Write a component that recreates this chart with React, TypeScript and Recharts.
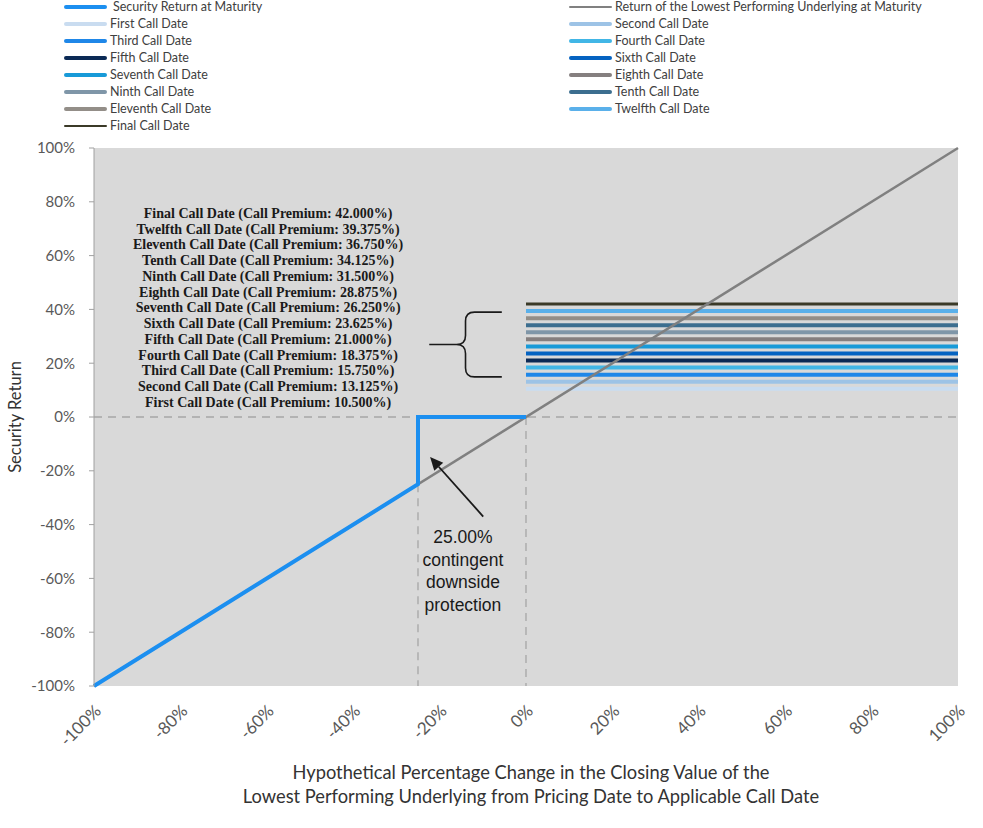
import {
	LineChart,
	Line,
	XAxis,
	YAxis,
	CartesianGrid,
	ReferenceLine,
	ReferenceArea,
	ReferenceDot,
	Label,
} from "recharts";

// axis ticks (percent)
const X_TICKS = [-100, -80, -60, -40, -20, 0, 20, 40, 60, 80, 100];
const Y_TICKS = [-100, -80, -60, -40, -20, 0, 20, 40, 60, 80, 100];

// return of the lowest performing underlying
const underlyingX = [-100, 100];
const underlyingY = [-100, 100];

// security return at maturity
const securityX = [-100, -25, -25, 0];
const securityY = [-100, -25, 0, 0];

const protectionLevel = -25;

// call dates and premiums
const callNames = [
	"First",
	"Second",
	"Third",
	"Fourth",
	"Fifth",
	"Sixth",
	"Seventh",
	"Eighth",
	"Ninth",
	"Tenth",
	"Eleventh",
	"Twelfth",
	"Final",
];
const callPremiums = [
	10.5, 13.125, 15.75, 18.375, 21.0, 23.625, 26.25, 28.875, 31.5, 34.125,
	36.75, 39.375, 42.0,
];
const callRange = [0, 100];

const callColors = [
	"#c9dcf0",
	"#9dc3e6",
	"#1f87e8",
	"#41b6e6",
	"#0b2a55",
	"#0563c1",
	"#189ad8",
	"#857f7f",
	"#7f96a8",
	"#3c6e8f",
	"#938e88",
	"#5ab0ea",
	"#3b3a28",
];

const SECURITY_COLOR = "#1c8ff0";
const UNDERLYING_COLOR = "#808080";
const DASH_COLOR = "#a6a6a6";
const SANS = "Lato, 'Open Sans', sans-serif";

const securityData = securityX.map((x, i) => ({ x, y: securityY[i] }));
const underlyingData = underlyingX.map((x, i) => ({ x, y: underlyingY[i] }));
const callData = callPremiums.map((p) => [
	{ x: callRange[0], y: p },
	{ x: callRange[1], y: p },
]);

const legendItems = [
	{ name: "Security Return at Maturity", color: SECURITY_COLOR, width: 4 },
	{
		name: "Return of the Lowest Performing Underlying at Maturity",
		color: UNDERLYING_COLOR,
		width: 2.5,
	},
	...callNames.map((n, i) => ({
		name: `${n} Call Date`,
		color: callColors[i],
		width: i === callNames.length - 1 ? 2.5 : 4,
	})),
];

const annotationLines = callNames
	.map((n, i) => `${n} Call Date (Call Premium: ${callPremiums[i].toFixed(3)}%)`)
	.reverse();

function XTick({ x, y, payload }: any) {
	const ax = x + 4;
	const ay = y + 14;
	return (
		<text
			x={ax}
			y={ay}
			dy="0.35em"
			textAnchor="end"
			transform={`rotate(-45, ${ax}, ${ay})`}
			fill="#595959"
			fontSize={17}
			fontFamily={SANS}
		>
			{`${payload.value}%`}
		</text>
	);
}

function XTitle({ viewBox }: any) {
	const cx = viewBox.x + viewBox.width / 2 + 5;
	return (
		<text textAnchor="middle" fill="#333" fontSize={18.3} fontFamily={SANS}>
			<tspan x={cx} y={viewBox.y + 93}>
				Hypothetical Percentage Change in the Closing Value of the
			</tspan>
			<tspan x={cx} y={viewBox.y + 117}>
				Lowest Performing Underlying from Pricing Date to Applicable Call Date
			</tspan>
		</text>
	);
}

function Brace({ x, y, width, height }: any) {
	const mx = x + width * 0.5;
	const my = y + height / 2;
	const r = 9;
	const d = [
		`M${x + width},${y}`,
		`H${mx + r}`,
		`Q${mx},${y} ${mx},${y + r}`,
		`V${my - r}`,
		`Q${mx},${my} ${mx - r},${my}`,
		`H${x}`,
		`M${mx - r},${my}`,
		`Q${mx},${my} ${mx},${my + r}`,
		`V${y + height - r}`,
		`Q${mx},${y + height} ${mx + r},${y + height}`,
		`H${x + width}`,
	].join(" ");
	return <path d={d} fill="none" stroke="#1a1a1a" strokeWidth={1.6} />;
}

function Arrow({ x1, y1, x2, y2 }: any) {
	const ang = Math.atan2(y2 - y1, x2 - x1);
	const len = 13;
	const w = 6;
	const bx = x2 - len * Math.cos(ang);
	const by = y2 - len * Math.sin(ang);
	const px = -Math.sin(ang) * w;
	const py = Math.cos(ang) * w;
	return (
		<g>
			<line x1={x1} y1={y1} x2={bx} y2={by} stroke="#1a1a1a" strokeWidth={1.8} />
			<polygon
				points={`${x2},${y2} ${bx + px},${by + py} ${bx - px},${by - py}`}
				fill="#1a1a1a"
			/>
		</g>
	);
}

function PremiumText({ cx, cy }: any) {
	return (
		<text
			textAnchor="middle"
			fill="#1a1a1a"
			fontSize={14}
			fontWeight="bold"
			fontFamily="'Liberation Serif', serif"
		>
			{annotationLines.map((t, i) => (
				<tspan key={t} x={cx} y={cy + i * 15.75} dy="0.35em">
					{t}
				</tspan>
			))}
		</text>
	);
}

function ProtectionText({ cx, cy }: any) {
	const lines = [
		`${Math.abs(protectionLevel).toFixed(2)}%`,
		"contingent",
		"downside",
		"protection",
	];
	return (
		<text
			textAnchor="middle"
			fill="#1a1a1a"
			fontSize={17.5}
			fontFamily="'Liberation Sans', Arial, sans-serif"
		>
			{lines.map((t, i) => (
				<tspan key={t} x={cx} y={cy + i * 22.5} dy="0.35em">
					{t}
				</tspan>
			))}
		</text>
	);
}

function ChartLegend() {
	return (
		<div style={{ position: "absolute", left: 0, top: 0, width: 983 }}>
			{legendItems.map((item, i) => {
				const col = i % 2;
				const row = Math.floor(i / 2);
				const left = col === 0 ? 64 : 569;
				return (
					<div
						key={item.name}
						style={{
							position: "absolute",
							left,
							top: row * 17 - 1,
							height: 16,
							lineHeight: "16px",
							display: "flex",
							alignItems: "center",
							whiteSpace: "nowrap",
							fontFamily: SANS,
							fontSize: 12.5,
							color: "#404040",
						}}
					>
						<span
							style={{
								display: "inline-block",
								width: 43,
								height: item.width,
								background: item.color,
								borderRadius: 2,
								marginRight: i === 0 ? 6 : 3,
							}}
						/>
						{item.name}
					</div>
				);
			})}
		</div>
	);
}

export default function App() {
	return (
		<div
			style={{
				position: "absolute",
				left: 0,
				top: 0,
				width: 983,
				height: 828,
				background: "#ffffff",
			}}
		>
			<LineChart
				width={983}
				height={828}
				margin={{ top: 148, right: 25, bottom: 82, left: 0 }}
			>
				<CartesianGrid
					fill="#d9d9d9"
					horizontal={false}
					vertical={false}
					stroke="none"
				/>
				<XAxis
					type="number"
					dataKey="x"
					domain={[-100, 100]}
					ticks={X_TICKS}
					interval={0}
					axisLine={false}
					tickLine={false}
					height={60}
					tick={<XTick />}
				>
					<Label content={<XTitle />} />
				</XAxis>
				<YAxis
					type="number"
					domain={[-100, 100]}
					ticks={Y_TICKS}
					interval={0}
					width={94}
					tickFormatter={(v) => `${v}%`}
					tick={{ fill: "#595959", fontSize: 15, fontFamily: SANS }}
					tickSize={5}
					tickMargin={14}
					axisLine={{ stroke: "#a0a0a0" }}
					tickLine={{ stroke: "#a0a0a0" }}
				>
					<Label
						value="Security Return"
						angle={-90}
						position="insideLeft"
						offset={15}
						style={{
							textAnchor: "middle",
							fill: "#333",
							fontSize: 16.5,
							fontFamily: SANS,
						}}
					/>
				</YAxis>

				<ReferenceLine y={0} stroke={DASH_COLOR} strokeDasharray="8 6" strokeWidth={1.3} />
				<ReferenceLine
					segment={[
						{ x: protectionLevel, y: protectionLevel },
						{ x: protectionLevel, y: -100 },
					]}
					stroke={DASH_COLOR}
					strokeDasharray="8 6"
					strokeWidth={1.3}
				/>
				<ReferenceLine
					segment={[
						{ x: 0, y: 0 },
						{ x: 0, y: -100 },
					]}
					stroke={DASH_COLOR}
					strokeDasharray="8 6"
					strokeWidth={1.3}
				/>

				{callData.map((d, i) => (
					<Line
						key={callNames[i]}
						data={d}
						dataKey="y"
						stroke={callColors[i]}
						strokeWidth={i === callNames.length - 1 ? 3 : 4}
						dot={false}
						activeDot={false}
						isAnimationActive={false}
					/>
				))}
				<Line
					data={underlyingData}
					dataKey="y"
					stroke={UNDERLYING_COLOR}
					strokeWidth={2.5}
					dot={false}
					activeDot={false}
					isAnimationActive={false}
				/>
				<Line
					data={securityData}
					dataKey="y"
					stroke={SECURITY_COLOR}
					strokeWidth={4}
					strokeLinejoin="miter"
					dot={false}
					activeDot={false}
					isAnimationActive={false}
				/>

				<ReferenceArea
					x1={-22.4}
					x2={-5.6}
					y1={14.9}
					y2={39}
					shape={<Brace />}
				/>
				<ReferenceLine
					segment={[
						{ x: -9.9, y: -37 },
						{ x: -22.2, y: -14.9 },
					]}
					shape={<Arrow />}
				/>
				<ReferenceDot x={-59.7} y={75.8} r={0} shape={<PremiumText />} />
				<ReferenceDot x={-14.6} y={-44.6} r={0} shape={<ProtectionText />} />
			</LineChart>
			<ChartLegend />
		</div>
	);
}
